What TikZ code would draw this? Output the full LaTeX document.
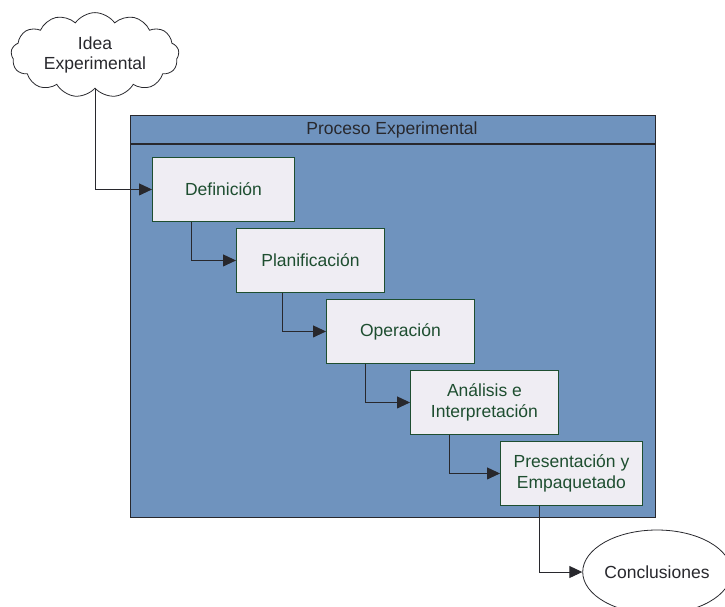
\documentclass[tikz,border=0pt]{standalone}
\usepackage{fontspec}
\setmainfont{Liberation Sans}
\usetikzlibrary{arrows.meta,shapes.symbols,shapes.geometric,calc}
\definecolor{panelblue}{RGB}{111,147,190}
\definecolor{boxfill}{RGB}{239,237,243}
\definecolor{boxgreen}{RGB}{30,78,48}
\definecolor{darkline}{RGB}{40,40,45}
\begin{document}
\begin{tikzpicture}[x=1pt,y=-1pt,
  font=\fontsize{17.5}{20.5}\selectfont,
  stepbox/.style={draw=boxgreen, fill=boxfill, text=boxgreen, line width=0.9pt,
    minimum height=64pt, anchor=north west, align=center, inner sep=2pt},
  conn/.style={draw=darkline, line width=1pt, -{Triangle[length=13pt,width=12pt]}},
  lbl/.style={text=darkline, align=center}]
\useasboundingbox (0,0) rectangle (725,606);
% panel
\node[draw=darkline, fill=panelblue, line width=1.3pt, minimum width=525pt, minimum height=402pt,
  anchor=north west, inner sep=0] (panel) at (130,115) {};
\node[lbl, anchor=center] (title) at (392,129.5) {Proceso Experimental};
\draw[darkline, line width=1.3pt] (panel.north west |- 0,144) coordinate (hl) -- (panel.north east |- 0,144) coordinate (hr);
% cloud
\node[cloud, draw=darkline, fill=white, line width=0.8pt, cloud puffs=13, cloud puff arc=110, aspect=2.1,
  minimum width=168pt, minimum height=80pt, inner sep=0, lbl] (cloud) at (95,55) {Idea\\Experimental};
% steps
\node[stepbox, minimum width=142pt] (def) at (152,157) {Definición};
\node[stepbox, minimum width=148pt] (plan) at (236,228) {Planificación};
\node[stepbox, minimum width=148pt] (op) at (326,299) {Operación};
\node[stepbox, minimum width=148pt] (ana) at (410,370) {Análisis e\\Interpretación};
\node[stepbox, minimum width=142pt] (pres) at (500,441) {Presentación y\\Empaquetado};
% conclusion
\node[ellipse, draw=darkline, fill=white, line width=0.8pt, minimum width=140pt, minimum height=84pt,
  inner sep=0, lbl] (concl) at (657,572) {Conclusiones};
% connectors
\draw[conn] (cloud) |- (def.west);
\draw[conn] ([xshift=39pt]def.south west) |- (plan.west);
\draw[conn] ([xshift=46pt]plan.south west) |- (op.west);
\draw[conn] ([xshift=39pt]op.south west) |- (ana.west);
\draw[conn] ([xshift=39pt]ana.south west) |- (pres.west);
\draw[conn] ([xshift=39pt]pres.south west) |- (concl.west);
\end{tikzpicture}
\end{document}
